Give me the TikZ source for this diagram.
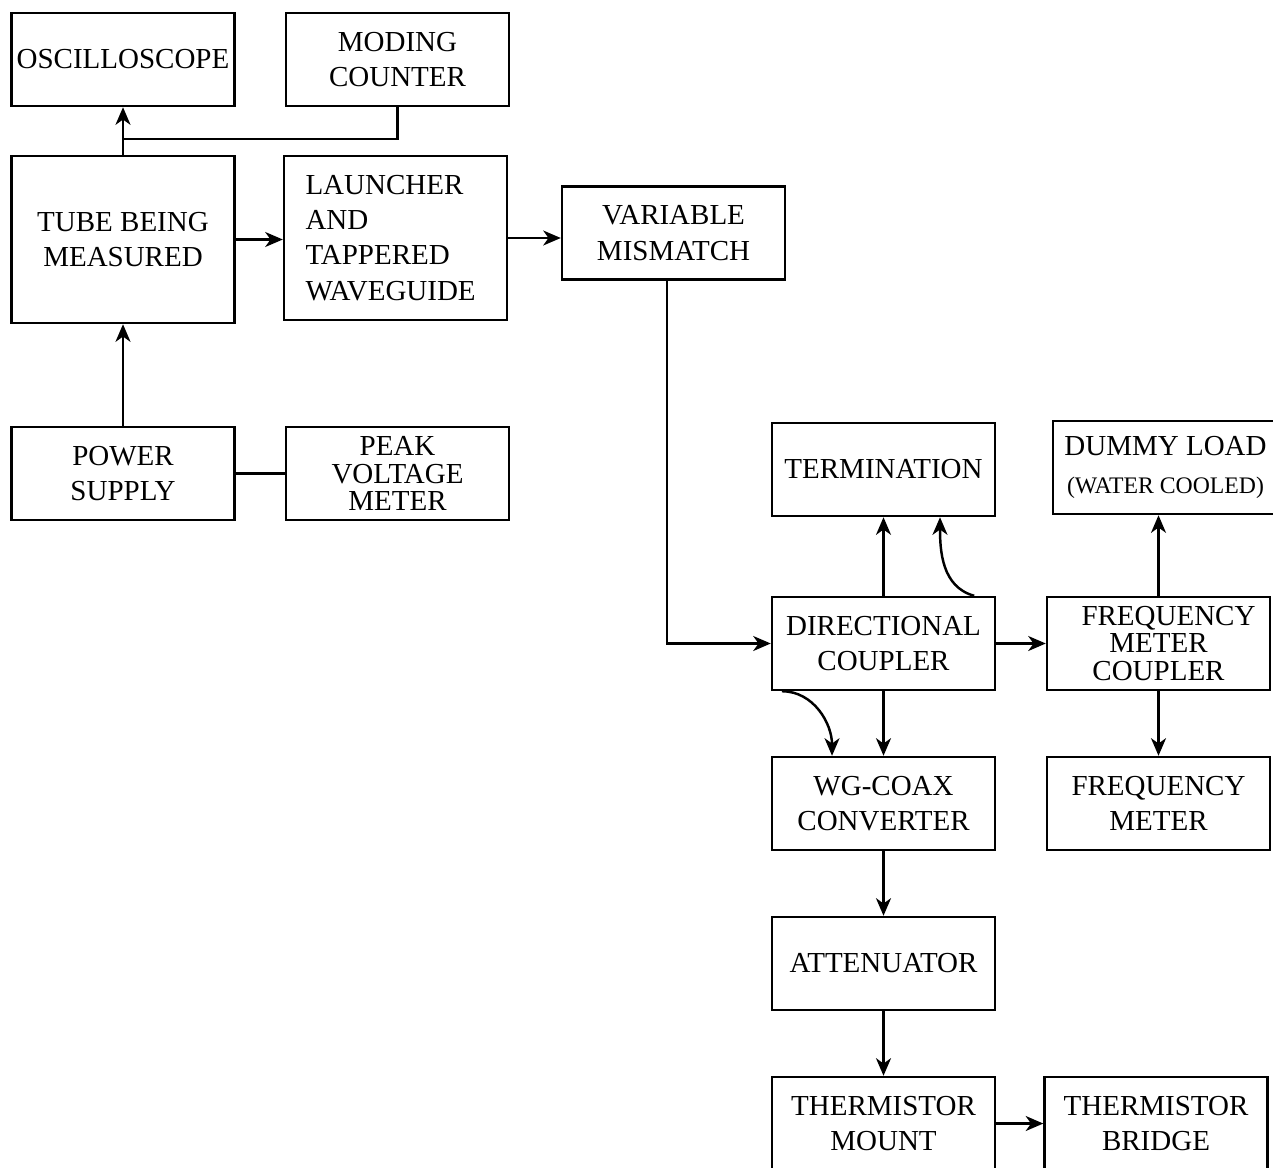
\documentclass[tikz,border=0pt]{standalone}
\usepackage{fontspec}
\setmainfont{Liberation Serif}
\usetikzlibrary{arrows.meta}
\begin{document}
\begin{tikzpicture}[
	x=0.02cm, y=-0.02cm,
	>={Stealth[length=10pt,width=8.5pt,inset=3pt]},
	blk/.style={
		rectangle,
		draw=black,
		line width=1.4pt,
		align=center,
		inner sep=0pt,
		font=\fontsize{16.5}{20}\selectfont,
		minimum height=1.86cm,
		minimum width=4.46cm
	},
	tight/.style={
		font=\fontsize{16.5}{15.5}\selectfont
	},
	conn/.style={
		line width=1.4pt
	},
]

\useasboundingbox (0,0) rectangle (1273,1167);

\node[blk] (osc) at (123,59.5) {OSCILLOSCOPE};
\node[blk] (moding) at (397.5,59.5) {MODING\\COUNTER};
\node[blk, minimum height=3.34cm] (tube) at (123,239.5) {TUBE BEING\\MEASURED};
\node[blk, minimum height=3.28cm, align=left, text width=3.6cm, inner xsep=0.43cm] (launcher) at (395.5,238) {LAUNCHER\\AND\\TAPPERED\\WAVEGUIDE};
\node[blk] (mismatch) at (673.5,233) {VARIABLE\\MISMATCH};

\node[blk] (power) at (123,473.5) {POWER\\SUPPLY};
\node[blk, tight] (peak) at (397.5,473.5) {PEAK\\VOLTAGE\\METER};

\node[blk] (term) at (883.5,469.5) {TERMINATION};
\node[blk, minimum width=4.5cm] (dummy) at (1165.5,467.5) {DUMMY LOAD\\[2pt]{\fontsize{13.5}{16}\selectfont (WATER COOLED)}};

\node[blk] (dircoup) at (883.5,643.5) {DIRECTIONAL\\COUPLER};
\node[blk, tight] (fmc) at (1158.5,643.5) {\hspace*{0.4cm}FREQUENCY\\METER\\COUPLER};

\node[blk] (wgcoax) at (883.5,803.5) {WG-COAX\\CONVERTER};
\node[blk] (fmeter) at (1158.5,803.5) {FREQUENCY\\METER};

\node[blk] (atten) at (883.5,963.5) {ATTENUATOR};

\node[blk] (tmount) at (883.5,1123.5) {THERMISTOR\\MOUNT};
\node[blk] (tbridge) at (1156,1123.5) {THERMISTOR\\BRIDGE};

\coordinate (jn) at (123,139);

\draw[conn,->] (tube) -- (osc);
\draw[conn] (moding) |- (jn);
\draw[conn,->] (tube.east) -- (tube.east -| launcher.west);
\draw[conn,->] (launcher.east) -- (launcher.east -| mismatch.west);
\draw[conn,->] (power) -- (tube);
\draw[conn] (power) -- (peak);

\draw[conn,->] ([xshift=-0.13cm]mismatch.south) |- (dircoup.west);

\draw[conn,->] (dircoup) -- (term);
\draw[conn,->] ([xshift=-0.44cm]dircoup.north east) to[out=165,in=-90] ([xshift=1.13cm]term.south);
\draw[conn,->] (dircoup) -- (fmc);
\draw[conn,->] (fmc.north) -- (fmc.north |- dummy.south);
\draw[conn,->] (fmc) -- (fmeter);

\draw[conn,->] (dircoup) -- (wgcoax);
\draw[conn,->] ([xshift=0.22cm]dircoup.south west) to[out=0,in=90] ([xshift=-1.03cm]wgcoax.north);
\draw[conn,->] (wgcoax) -- (atten);
\draw[conn,->] (atten) -- (tmount);
\draw[conn,->] (tmount) -- (tbridge);

\end{tikzpicture}
\end{document}
